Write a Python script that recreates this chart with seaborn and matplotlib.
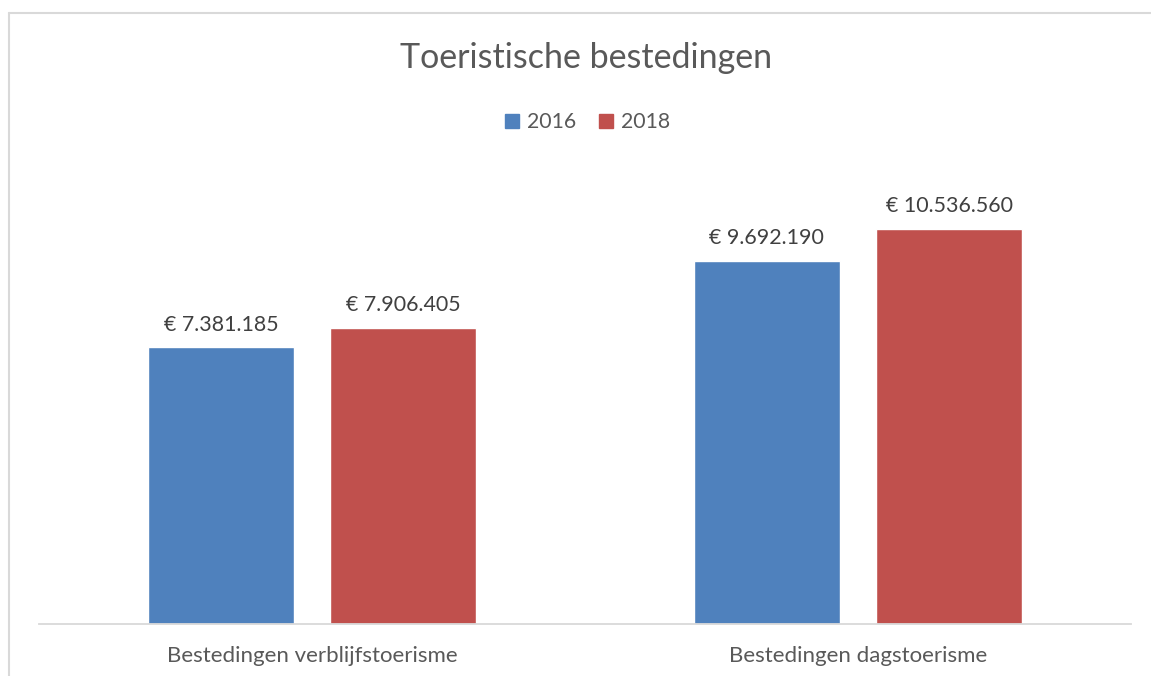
import matplotlib
matplotlib.use("Agg")
import matplotlib.pyplot as plt
import seaborn as sns
import pandas as pd
from matplotlib.lines import Line2D

# data
categories = ['Bestedingen verblijfstoerisme', 'Bestedingen dagstoerisme']
years = ['2016', '2018']
values_2016 = [7381185, 9692190]
values_2018 = [7906405, 10536560]

colors = ['#4F81BD', '#C0504D']

df = pd.DataFrame({
    'categorie': categories * 2,
    'jaar': [years[0]] * 2 + [years[1]] * 2,
    'waarde': values_2016 + values_2018,
})

sns.set_style('white')
plt.rcParams['font.family'] = ['Lato', 'DejaVu Sans']

fig = plt.figure(figsize=(11.51, 6.76), dpi=100)
ax = fig.add_axes([39 / 1151, 52 / 676, 1092 / 1151, 450 / 676])

sns.barplot(data=df, x='categorie', y='waarde', hue='jaar', palette=colors,
            width=0.668, gap=0.2, ax=ax, legend=False, saturation=1)

ax.set_ylim(0, 12000000)
ax.set_xlim(-0.5, 1.5)
ax.set_xlabel('')
ax.set_ylabel('')
ax.set_yticks([])
for s in ['top', 'left', 'right']:
    ax.spines[s].set_visible(False)
ax.spines['bottom'].set_color('#D9D9D9')
ax.spines['bottom'].set_linewidth(1.3)
ax.tick_params(axis='x', length=0, pad=16, labelsize=16, labelcolor='#595959')


def euro(v):
    return '€ ' + f'{v:,.0f}'.replace(',', '.')


for cont in ax.containers:
    ax.bar_label(cont, labels=[euro(v) for v in cont.datavalues], padding=9,
                 fontsize=15.4, color='#404040')

# title and legend are centred on the whole chart frame, not the plot area
cx = 586 / 1151
fig.text(cx, 1 - 58 / 676, 'Toeristische bestedingen', ha='center', va='center',
         fontsize=24.5, color='#595959')

handles = [Line2D([], [], marker='s', linestyle='', markersize=10, color=c) for c in colors]
fig.legend(handles, years, loc='center', bbox_to_anchor=(cx, 1 - 122 / 676), ncol=2,
           frameon=False, fontsize=15.3, labelcolor='#595959', handletextpad=0.2,
           columnspacing=0.9, handlelength=1.0)

# chart frame
fig.add_artist(Line2D([9 / 1151, 9 / 1151], [0, 1 - 13 / 676], color='#D9D9D9', lw=1.5))
fig.add_artist(Line2D([9 / 1151, 1], [1 - 13 / 676, 1 - 13 / 676], color='#D9D9D9', lw=1.5))

fig.savefig('out.png', dpi=100, facecolor='white')
